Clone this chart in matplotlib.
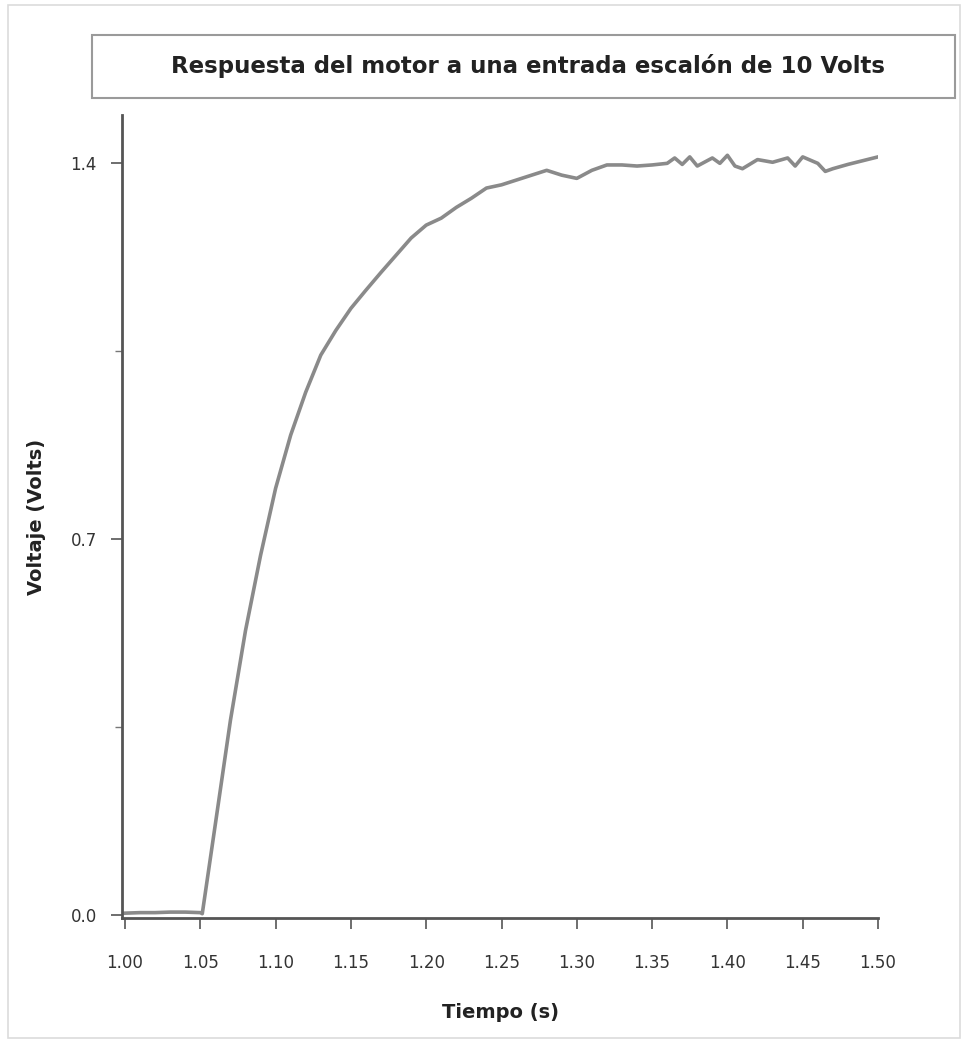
import matplotlib
matplotlib.use("Agg")
import matplotlib.pyplot as plt
from matplotlib.patches import Rectangle
from matplotlib.ticker import MultipleLocator

title = "Respuesta del motor a una entrada escalón de 10 Volts"
xlabel = "Tiempo (s)"
ylabel = "Voltaje (Volts)"

tiempo = [1.000, 1.010, 1.020, 1.030, 1.040, 1.050, 1.0513, 1.060, 1.070, 1.080,
          1.090, 1.100, 1.110, 1.120, 1.130, 1.140, 1.150, 1.160, 1.170, 1.180,
          1.190, 1.200, 1.210, 1.220, 1.230, 1.240, 1.250, 1.260, 1.270, 1.280,
          1.290, 1.300, 1.310, 1.320, 1.330, 1.340, 1.350, 1.360, 1.365, 1.370,
          1.375, 1.380, 1.390, 1.395, 1.400, 1.405, 1.410, 1.420, 1.430, 1.440,
          1.445, 1.450, 1.460, 1.465, 1.470, 1.480, 1.490, 1.500]
voltaje = [0.004, 0.005, 0.005, 0.006, 0.006, 0.005, 0.003, 0.17, 0.363, 0.53,
           0.67, 0.795, 0.894, 0.974, 1.043, 1.089, 1.130, 1.164, 1.197, 1.229,
           1.261, 1.285, 1.298, 1.318, 1.335, 1.354, 1.360, 1.369, 1.378, 1.387,
           1.378, 1.372, 1.387, 1.397, 1.397, 1.395, 1.397, 1.400, 1.410, 1.398,
           1.412, 1.395, 1.410, 1.400, 1.415, 1.395, 1.390, 1.407, 1.402, 1.410,
           1.395, 1.412, 1.400, 1.385, 1.390, 1.398, 1.405, 1.412]

xticks = [1.00, 1.05, 1.10, 1.15, 1.20, 1.25, 1.30, 1.35, 1.40, 1.45, 1.50]
yticks = [0.0, 0.7, 1.4]

W, H = 969, 1041
fig = plt.figure(figsize=(W / 100, H / 100), dpi=100)
fig.patch.set_facecolor("white")

# outer light frame
fig.add_artist(Rectangle((8 / W, 1 - 1038 / H), (960 - 8) / W, (1038 - 5) / H,
                         transform=fig.transFigure, fill=False,
                         edgecolor="#dcdcdc", linewidth=1.2))
# title box
fig.add_artist(Rectangle((92 / W, 1 - 98 / H), (955 - 92) / W, (98 - 35) / H,
                         transform=fig.transFigure, fill=False,
                         edgecolor="#9a9a9a", linewidth=1.5))
fig.text(528 / W, 1 - 66 / H, title, ha="center", va="center",
         fontsize=16.5, fontweight="bold", color="#222222")

ax = fig.add_axes([122 / W, 1 - 918 / H, (878 - 122) / W, (918 - 115) / H])
ax.plot(tiempo, voltaje, color="#8a8a8a", linewidth=2.6)

ax.set_xlim(0.998, 1.50)
ax.set_ylim(-0.005, 1.49)
ax.set_xticks(xticks)
ax.set_xticklabels([f"{v:.2f}" for v in xticks])
ax.set_yticks(yticks)
ax.set_yticklabels([f"{v:.1f}" for v in yticks])
ax.yaxis.set_minor_locator(MultipleLocator(0.35))

for s in ["top", "right"]:
    ax.spines[s].set_visible(False)
for s in ["left", "bottom"]:
    ax.spines[s].set_color("#555555")
    ax.spines[s].set_linewidth(2.0)

ax.tick_params(axis="both", which="major", direction="out", length=8, width=1.2,
               colors="#555555", labelsize=12, labelcolor="#333333")
ax.tick_params(axis="x", which="major", pad=18)
ax.tick_params(axis="y", which="major", pad=10)
ax.tick_params(axis="y", which="minor", direction="out", length=5, width=1.0,
               colors="#777777")

ax.set_ylabel(ylabel, fontsize=14, fontweight="bold", color="#222222", labelpad=18)
fig.text(500 / W, 1 - 1012 / H, xlabel, ha="center", va="center",
         fontsize=14, fontweight="bold", color="#222222")

fig.savefig("out.png", dpi=100)
